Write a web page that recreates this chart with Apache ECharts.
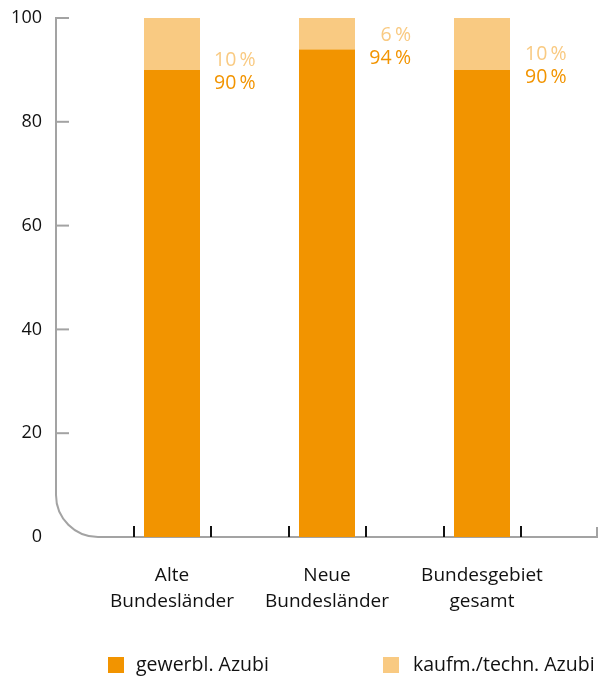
<!DOCTYPE html>
<html>
<head>
<meta charset="utf-8">
<script src="https://cdn.jsdelivr.net/npm/echarts@6/dist/echarts.min.js"></script>
<style>
  html, body { margin: 0; padding: 0; background: #fff; }
  #chart { width: 602px; height: 677px; }
</style>
</head>
<body>
<div id="chart"></div>
<script>
// Anteil der Auszubildenden nach Bereich (in %)
const categories = ['Alte\nBundesländer', 'Neue\nBundesländer', 'Bundesgebiet\ngesamt'];
const gewerblich = [90, 94, 90];
const kaufmTechn = [10, 6, 10];
const yTicks = [0, 20, 40, 60, 80, 100];
const seriesNames = ['gewerbl. Azubi', 'kaufm./techn. Azubi'];

const DARK = '#F29400';
const LIGHT = '#F9CA82';
const AXIS_GREY = '#a3a3a3';
const TEXT = '#111';
const FONT = '"Open Sans", "Noto Sans", sans-serif';

// label placement beside each bar: [dx, dy, align]
const lightLabelPos = [[14, -9, 'left'], [56, -14, 'right'], [15, -15, 'left']];
const darkLabelPos = [[14, 14, 'left'], [56, 9, 'right'], [15, 8, 'left']];

const pct = v => v + '\u2009%';

function valueLabel(pos, color, anchorY) {
  return {
    show: true,
    position: ['100%', anchorY],
    offset: [pos[0], pos[1]],
    align: pos[2],
    verticalAlign: 'middle',
    color: color,
    fontFamily: FONT,
    fontSize: 19.5,
    formatter: p => pct(p.value)
  };
}

const chart = echarts.init(document.getElementById('chart'), null, { renderer: 'canvas' });

const legendText = { fontFamily: FONT, fontSize: 19.5, color: TEXT };

const option = {
  animation: false,
  backgroundColor: '#fff',
  grid: { left: 94.5, right: 42.5, top: 18, bottom: 140, containLabel: false },
  legend: [
    {
      data: [seriesNames[0]], left: 108, top: 655, padding: 0, itemWidth: 16, itemHeight: 16,
      icon: 'rect', selectedMode: false,
      textStyle: Object.assign({ padding: [0, 0, 0, 7] }, legendText)
    },
    {
      data: [seriesNames[1]], left: 383, top: 655, padding: 0, itemWidth: 16, itemHeight: 16,
      icon: 'rect', selectedMode: false,
      textStyle: Object.assign({ padding: [0, 0, 0, 9] }, legendText)
    }
  ],
  xAxis: [
    {
      type: 'category',
      data: categories,
      axisLine: { show: false },
      axisTick: { show: false },
      axisLabel: {
        margin: 26, fontFamily: FONT, fontSize: 19, color: TEXT, lineHeight: 26, interval: 0
      }
    },
    {
      // short black marks either side of each bar
      type: 'category',
      data: ['1', '2', '3', '4', '5', '6'],
      position: 'bottom',
      axisLine: { show: false },
      axisLabel: { show: false },
      axisTick: {
        show: true, inside: true, alignWithLabel: true, length: 11,
        lineStyle: { color: '#111', width: 2 }
      }
    }
  ],
  yAxis: {
    type: 'value',
    min: yTicks[0],
    max: yTicks[yTicks.length - 1],
    interval: yTicks[1] - yTicks[0],
    offset: 38.5,
    axisLine: { show: false },
    axisTick: { show: false },
    splitLine: { show: false },
    axisLabel: { margin: 14, fontFamily: FONT, fontSize: 18, color: TEXT }
  },
  series: [
    {
      name: seriesNames[0],
      type: 'bar',
      stack: 'azubi',
      barWidth: 56,
      itemStyle: { color: DARK },
      data: gewerblich.map((v, i) => ({ value: v, label: valueLabel(darkLabelPos[i], DARK, 0) }))
    },
    {
      name: seriesNames[1],
      type: 'bar',
      stack: 'azubi',
      barWidth: 56,
      itemStyle: { color: LIGHT },
      data: kaufmTechn.map((v, i) => ({ value: v, label: valueLabel(lightLabelPos[i], LIGHT, '100%') }))
    }
  ]
};

chart.setOption(option);

// Grey frame: y axis with inner ticks, rounded corner into the x axis line
const yPix = v => chart.convertToPixel({ yAxisIndex: 0 }, v);
const axisX = 56;
const rightX = 597;
const y0 = yPix(yTicks[0]);
const yTop = yPix(yTicks[yTicks.length - 1]);
const r = 42;
const frameStyle = { stroke: AXIS_GREY, lineWidth: 2, fill: null };

const frame = [
  { type: 'polyline', shape: { points: [[axisX + 13, yTop], [axisX, yTop], [axisX, y0 - r]] } },
  { type: 'arc', shape: { cx: axisX + r, cy: y0 - r, r: r, startAngle: Math.PI / 2, endAngle: Math.PI, clockwise: true } },
  { type: 'polyline', shape: { points: [[axisX + r, y0], [rightX, y0], [rightX, y0 - 10]] } }
];
yTicks.slice(1, -1).forEach(t => {
  const y = yPix(t);
  frame.push({ type: 'line', shape: { x1: axisX, y1: y, x2: axisX + 13, y2: y } });
});
frame.forEach(el => { el.style = Object.assign({}, frameStyle); el.z = 0; el.silent = true; });

chart.setOption({ graphic: frame });
</script>
</body>
</html>
